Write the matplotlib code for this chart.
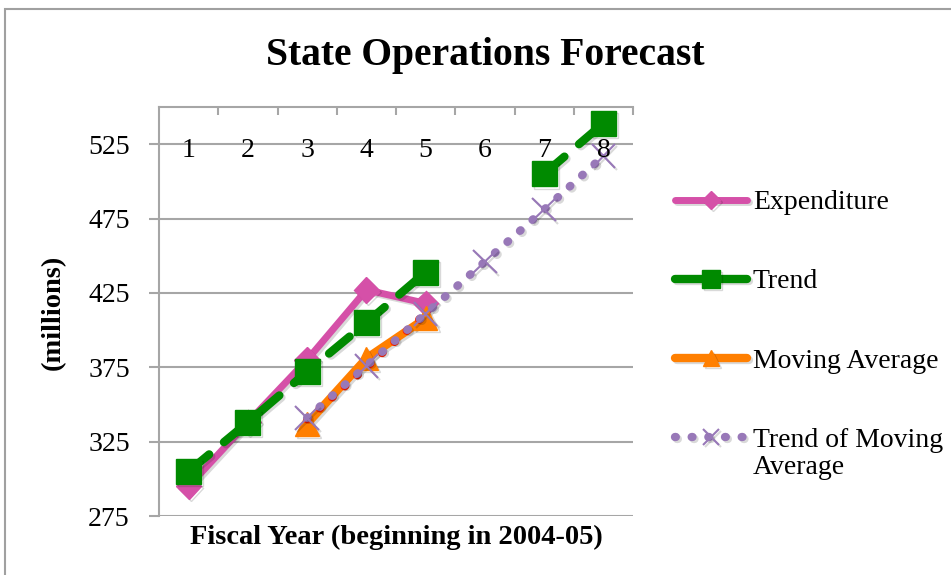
import matplotlib
matplotlib.use("Agg")
import matplotlib.pyplot as plt
import matplotlib.patheffects as pe
from matplotlib.patches import Rectangle
import numpy as np

plt.rcParams['font.family'] = ['Liberation Serif', 'DejaVu Serif']

years = [1, 2, 3, 4, 5, 6, 7, 8]
year_labels = ['1', '2', '3', '4', '5', '6', '7', '8']

expenditure = [295, 338, 380, 427, 418, np.nan, np.nan, np.nan]
trend = [305, 338, 372, 405, 439, np.nan, 505, 539]
moving_avg = [np.nan, np.nan, 337, 381, 408, np.nan, np.nan, np.nan]
ma_trendline = [np.nan, np.nan, 340, 375, 411, np.nan, np.nan, np.nan]
trend_of_ma = [np.nan, np.nan, 341, 376, 411, 446, 481, 517]

yticks = [275, 325, 375, 425, 475, 525]

grid_col = '#a6a6a6'
shadow = [pe.SimpleLineShadow(offset=(1.5, -1.5), alpha=0.15, shadow_color='k'), pe.Normal()]
dots = (0, (0.1, 1.9))

fig = plt.figure(figsize=(9.51, 5.75), dpi=100)
ax = fig.add_axes([159 / 951, 1 - 516 / 575, (633 - 159) / 951, (516 - 107) / 575])

# outer chart border
fig.patches.append(Rectangle((5 / 951, -0.1), 1.2, (1 - 9 / 575) + 0.1, transform=fig.transFigure,
                             fill=False, edgecolor='#a0a0a0', linewidth=1.5))

ax.plot(years, expenditure, color='#d550a8', lw=5, marker='D', ms=13,
        solid_capstyle='round', label='Expenditure', zorder=3, path_effects=shadow)
ax.plot(years, trend, color='#008a00', lw=6, ls=(0, (3.2, 2.3)), dash_capstyle='round',
        marker='s', ms=18, label='Trend', zorder=4, path_effects=shadow)
ax.plot(years, moving_avg, color='#ff7f00', lw=6, marker='^', ms=17,
        solid_capstyle='round', label='Moving Average', zorder=5, path_effects=shadow)
ax.plot(years, ma_trendline, color='#ff2000', lw=6, ls=dots, dash_capstyle='round',
        zorder=6)
ax.plot(years, trend_of_ma, color='#9878b8', lw=6, ls=dots, dash_capstyle='round',
        marker='x', ms=17, mew=1.5, label='Trend of Moving', zorder=7,
        path_effects=shadow)

ax.set_xlim(0.5, 8.5)
ax.set_ylim(275, 550)
ax.set_yticks(yticks)
ax.set_yticklabels([str(v) for v in yticks], fontsize=20)
ax.yaxis.grid(True, color=grid_col, lw=1.5)
ax.set_axisbelow(True)
ax.tick_params(axis='y', direction='out', length=7, width=1.5, color=grid_col, pad=14)

ax.xaxis.tick_top()
ax.set_xticks(np.arange(1.5, 9, 1))
ax.set_xticklabels([])
ax.tick_params(axis='x', direction='in', length=6, width=1.5, color=grid_col)
for x, lab in zip(years, year_labels):
    ax.text(x, 520.5, lab, ha='center', va='center', fontsize=20, zorder=8)

for s in ['right', 'bottom']:
    ax.spines[s].set_visible(False)
for s in ['left', 'top']:
    ax.spines[s].set_color(grid_col)
    ax.spines[s].set_linewidth(1.5)

fig.text(485 / 951, 1 - 56 / 575, 'State Operations Forecast', ha='center', va='center',
         fontsize=28.5, fontweight='bold')
fig.text(396 / 951, 1 - 537 / 575, 'Fiscal Year (beginning in 2004-05)', ha='center',
         va='center', fontsize=20.5, fontweight='bold')
fig.text(53 / 951, 1 - 312 / 575, '(millions)', ha='center', va='center', rotation=90,
         fontsize=20.5, fontweight='bold')

leg = ax.legend(loc='upper left', bbox_to_anchor=(675 / 951, 1 - 190 / 575),
                bbox_transform=fig.transFigure, frameon=False, fontsize=20,
                handlelength=2.6, handletextpad=0.2, labelspacing=1.93, borderaxespad=0,
                borderpad=0, markerscale=0.7)
# second line of the last legend label
fig.text(753 / 951, 1 - 467 / 575, 'Average', ha='left', va='center', fontsize=20)

fig.savefig('out.png', dpi=100)
